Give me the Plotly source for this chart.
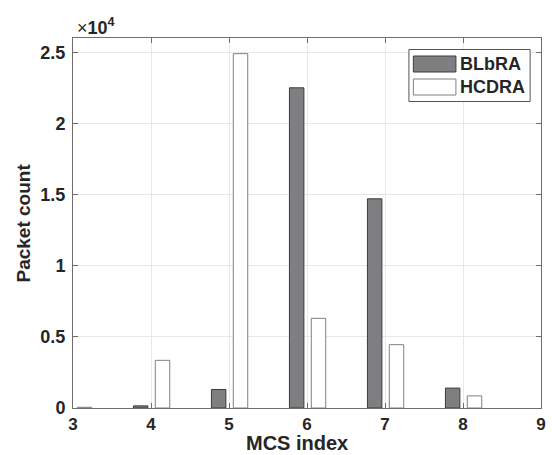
import plotly.graph_objects as go

mcs = [3, 4, 5, 6, 7, 8]
blbra = [0, 150, 1300, 22500, 14700, 1400]
hcdra = [50, 3350, 24900, 6300, 4450, 850]
series_names = ["BLbRA", "HCDRA"]
y_tickvals = [0, 5000, 10000, 15000, 20000, 25000]
y_ticktext = ["0", "0.5", "1", "1.5", "2", "2.5"]
x_ticks = [3, 4, 5, 6, 7, 8, 9]

FONT = "Liberation Sans, Arial, sans-serif"
GREY_FILL = "#7f7f81"
GREY_EDGE = "#3c3c3c"
WHITE_EDGE = "#808080"
AXIS_COL = "#6e6e6e"
TXT = "#262626"

fig = go.Figure()
fig.add_trace(go.Bar(
    x=mcs, y=blbra, name=series_names[0], offset=-0.225, width=0.185,
    marker=dict(color=GREY_FILL, line=dict(color=GREY_EDGE, width=1)),
    showlegend=False))
fig.add_trace(go.Bar(
    x=mcs, y=hcdra, name=series_names[1], offset=0.055, width=0.185,
    marker=dict(color="white", line=dict(color=WHITE_EDGE, width=1)),
    showlegend=False))

fig.update_layout(
    width=552, height=455,
    margin=dict(l=73, r=6, t=38, b=47),
    paper_bgcolor="white", plot_bgcolor="white",
    font=dict(family=FONT, size=15, color=TXT),
    barmode="overlay",
)
fig.update_xaxes(
    range=[3, 9], tickvals=x_ticks, ticktext=[f"<b>{v}</b>" for v in x_ticks],
    showgrid=True, gridcolor="#e8e8e8", gridwidth=1,
    showline=True, linecolor=AXIS_COL, linewidth=1, mirror="ticks",
    ticks="inside", ticklen=5, tickcolor=AXIS_COL, ticklabelstandoff=1,
    tickfont=dict(size=17, family=FONT, color=TXT), zeroline=False,
)
fig.update_yaxes(
    range=[0, 26000], tickvals=y_tickvals, ticktext=[f"<b>{t}</b>" for t in y_ticktext],
    showgrid=True, gridcolor="#e8e8e8", gridwidth=1,
    showline=True, linecolor=AXIS_COL, linewidth=1, mirror="ticks",
    ticks="inside", ticklen=5, tickcolor=AXIS_COL, ticklabelstandoff=3,
    tickfont=dict(size=18, family=FONT, color=TXT), zeroline=False,
)

def px_x(p):
    return (p - 73) / 473.0

def px_y(p):
    return (408 - p) / 370.0

ann = []
ann.append(dict(text="<b>MCS index</b>", x=px_x(299.5), y=px_y(455), xref="paper", yref="paper",
                showarrow=False, font=dict(size=20, family=FONT, color=TXT), borderpad=0,
                xanchor="center", yanchor="bottom"))
ann.append(dict(text="<b>Packet count</b>", x=px_x(22), y=px_y(223), xref="paper", yref="paper",
                showarrow=False, textangle=-90, font=dict(size=19, family=FONT, color=TXT),
                xanchor="center", yanchor="middle"))
ann.append(dict(text="×<b>10<sup>4</sup></b>", x=px_x(75), y=px_y(26), xref="paper", yref="paper",
                showarrow=False, font=dict(size=18, family=FONT, color=TXT),
                xanchor="left", yanchor="middle"))

shapes = []
shapes.append(dict(type="rect", xref="paper", yref="paper",
                   x0=px_x(412.5), x1=px_x(535), y0=px_y(101.5), y1=px_y(49.5),
                   line=dict(color="#555555", width=1), fillcolor="white", layer="above"))
shapes.append(dict(type="rect", xref="paper", yref="paper",
                   x0=px_x(417), x1=px_x(460), y0=px_y(72), y1=px_y(56),
                   line=dict(color=GREY_EDGE, width=1), fillcolor=GREY_FILL, layer="above"))
shapes.append(dict(type="rect", xref="paper", yref="paper",
                   x0=px_x(417), x1=px_x(460), y0=px_y(95), y1=px_y(79),
                   line=dict(color=WHITE_EDGE, width=1), fillcolor="white", layer="above"))
ann.append(dict(text=f"<b>{series_names[0]}</b>", x=px_x(462), y=px_y(64), xref="paper", yref="paper",
                showarrow=False, font=dict(size=18, family=FONT, color=TXT),
                xanchor="left", yanchor="middle"))
ann.append(dict(text=f"<b>{series_names[1]}</b>", x=px_x(462), y=px_y(87.5), xref="paper", yref="paper",
                showarrow=False, font=dict(size=18, family=FONT, color=TXT),
                xanchor="left", yanchor="middle"))

fig.update_layout(annotations=ann, shapes=shapes)
fig.write_html("out.html")
